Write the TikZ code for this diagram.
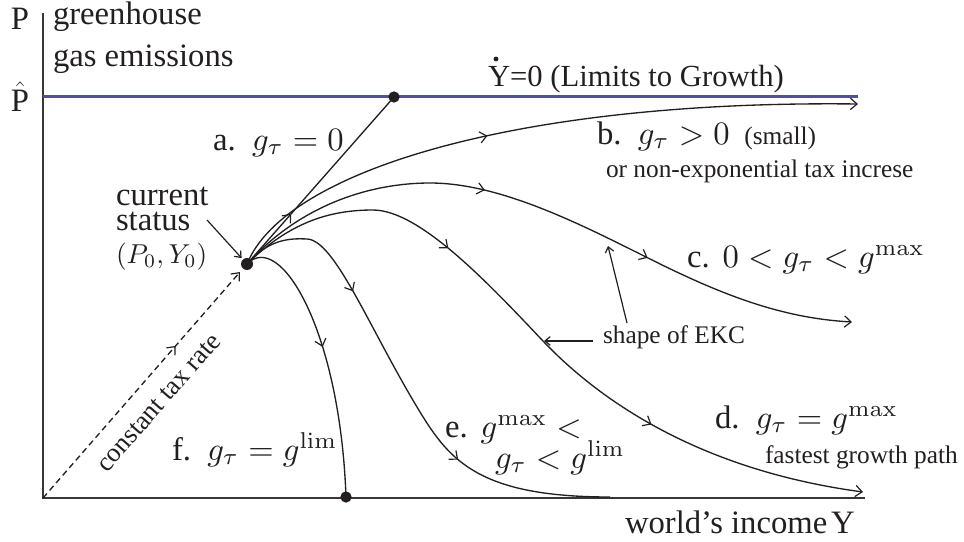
\documentclass[tikz,border=0pt]{standalone}
\usepackage{fix-cm}
\usepackage{amsmath}
\usepackage{graphicx}
\usepackage[no-math]{fontspec}
\setmainfont{Liberation Serif}
\usetikzlibrary{arrows.meta,decorations.markings}
\definecolor{ink}{RGB}{35,31,32}
\definecolor{axisgray}{RGB}{55,55,55}
\definecolor{limblue}{RGB}{78,82,158}
\newcommand{\lblbig}{\fontsize{24.5}{29}\selectfont}
\newcommand{\lblmid}{\fontsize{23}{28}\selectfont}
\newcommand{\lblsmall}{\fontsize{19}{23}\selectfont}
\newcommand{\mth}[1]{\scalebox{2.45}{\fontsize{10}{12}\selectfont$#1$}}
\newcommand{\mths}[1]{\scalebox{2.05}{\fontsize{10}{12}\selectfont$#1$}}
\tikzset{
  mybarb/.tip={Straight Barb[length=5pt,width=8.5pt,line width=0.9pt]},
  smallbarb/.tip={Straight Barb[length=4pt,width=6.5pt,line width=0.9pt]},
}
\begin{document}
\begin{tikzpicture}[x=0.75pt,y=-0.75pt,
  every node/.style={inner sep=0pt, outer sep=0pt, text=ink},
  lbl/.style={anchor=base west, font=\lblbig},
  slbl/.style={anchor=base west, font=\lblsmall},
  curve/.style={draw=ink, line width=1pt},
  axisline/.style={draw=axisgray, line width=2.2pt, line join=miter},
  limline/.style={draw=limblue, line width=2pt},
  dotnode/.style={circle, fill=ink, minimum size=9pt, inner sep=0pt},
  am/.style={postaction={decorate,decoration={markings,mark=at position #1 with {\arrow{mybarb}}}}},
  dashline/.style={dash pattern=on 4.5pt off 3pt},
]
\useasboundingbox (0,0) rectangle (964,542);

% key points
\coordinate (O) at (247,264);
\coordinate (A) at (394,97);
\coordinate (F) at (346,497);
\coordinate (yt) at (43,13);
\coordinate (org) at (43,498);
\coordinate (xr) at (865,498);
\coordinate (bl) at (43,96.5);
\coordinate (br) at (858,96.5);
\coordinate (bE) at (858,104);
\coordinate (cE) at (852,322);
\coordinate (dE) at (863,492);
\coordinate (eE) at (610,497);

% axes and limit line
\draw[axisline] (yt) -- (org) -- (xr);
\draw[limline] (bl) -- (br);

% paths
\draw[curve, am=0.3] (O) -- (A);
\draw[curve, am=0.43, -mybarb] (O) .. controls (285,170) and (520,100) .. (bE);
\draw[curve, am=0.40, am=0.67, -mybarb] (O) .. controls (300,205) and (370,183) .. (430,183)
   .. controls (500,183) and (580,224) .. (648,258)
   .. controls (720,294) and (780,318) .. (cE);
\draw[curve, am=0.315, am=0.69, -mybarb] (O) .. controls (290,222) and (330,210) .. (373,210)
   .. controls (420,210) and (490,285) .. (543,341)
   .. controls (600,401) and (700,470) .. (dE);
\draw[curve, am=0.28, am=0.68] (O) .. controls (268,240) and (288,238) .. (307,239)
   .. controls (335,240) and (370,330) .. (420,412)
   .. controls (450,461) and (480,497) .. (eE);
\draw[curve, am=0.46] (O) .. controls (280,230) and (340,330) .. (F);
\draw[curve, dashline, am=0.65, -mybarb, shorten >=8pt] (org) -- (O);

% dots
\node[dotnode] (Odot) at (O) {};
\node[dotnode, minimum size=8.5pt] (Adot) at (A) {};
\node[dotnode, minimum size=8.5pt] (Fdot) at (F) {};

% axis labels
\node[lbl] (lblP) at (11,30) {P};
\node[lbl] (lblPhat) at (11,112) {$\hat{\text{P}}$};
\node[lbl] (lblgh) at (53,25) {greenhouse};
\node[lbl] (lblgas) at (53,67) {gas emissions};
\node[anchor=base west, font=\lblmid] (lblY) at (488,87) {Y=0 (Limits to Growth)};
\node[circle, fill=ink, minimum size=3.6pt] (ydot) at (496,59) {};
\node[lbl] (lblinc) at (625,533) {world’s income\hspace{0.12em}Y};

% current status
\node[lbl] (cur1) at (116,205) {current};
\node[lbl] (cur2) at (116,230) {status};
\node[anchor=base west] (cur3) at (116,263) {\mths{(P_0,Y_0)}};
\coordinate (csA) at (207,220);
\draw[curve, line width=0.9pt, -smallbarb, shorten >=1.5pt] (csA) -- (Odot);

% case labels
\node[lbl] (la) at (213,150) {a.\hspace{0.5em}\mth{g_\tau = 0}};
\node[lbl] (lb) at (597,144) {b.\hspace{0.5em}\mth{g_\tau > 0}\hspace{0.45em}{\lblsmall (small)}};
\node[slbl] (lb2) at (606,177) {or non-exponential tax increse};
\node[lbl] (lc) at (687,267) {c.\hspace{0.4em}\mth{0 < g_\tau < g^{\max}}};
\node[lbl] (ld) at (715,428) {d.\hspace{0.5em}\mth{g_\tau = g^{\max}}};
\node[slbl] (ld2) at (765,463) {fastest growth path};
\node[lbl] (le1) at (445,437) {e.\hspace{0.4em}\mth{g^{\max} <{}}};
\node[lbl] (le2) at (495,468) {\mth{g_\tau < g^{\lim}}};
\node[lbl] (lf) at (172,460) {f.\hspace{0.5em}\mth{g_\tau = g^{\lim}}};
\node[font=\fontsize{20}{24}\selectfont, rotate=48.8] (ltax) at (159,403) {constant tax rate};

% EKC annotation
\node[slbl] (ekc) at (603,343) {shape of EKC};
\coordinate (ekcL0) at (593,341);
\coordinate (ekcL1) at (544,341);
\coordinate (ekcU0) at (627,323);
\coordinate (ekcU1) at (608,246);
\draw[curve, line width=0.9pt, -smallbarb] (ekcL0) -- (ekcL1);
\draw[curve, line width=0.9pt, -smallbarb] (ekcU0) -- (ekcU1);
\end{tikzpicture}
\end{document}
